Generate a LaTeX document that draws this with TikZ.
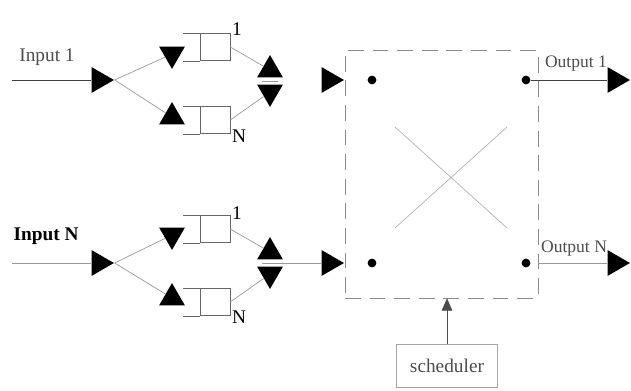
\documentclass[tikz,border=0pt]{standalone}
\usepackage{fontspec}
\setmainfont{Liberation Serif}
\usepackage{tikz}
\usetikzlibrary{shapes.geometric,arrows.meta}
\tikzset{tri/.style={regular polygon, regular polygon sides=3, fill=black,
  inner sep=0pt, minimum size=17pt},
  trir/.style={tri, shape border rotate=-90},
  triu/.style={tri},
  trid/.style={tri, shape border rotate=180},
  queue/.style={draw=black!60, minimum width=17pt, minimum height=15.4pt,
  inner sep=0pt},
  dot/.style={circle, fill=black, inner sep=0pt, minimum size=5pt},
  branch/.style={draw=black!40},
  wire/.style={draw=black!75},
  lbl/.style={text=black!70, inner sep=1pt}}

\begin{document}
\begin{tikzpicture}[x=0.02cm, y=-0.02cm, font=\fontsize{11}{13}\selectfont]
  \useasboundingbox (0,0) rectangle (631,391);

  % input 1
  \coordinate (i1) at (12,80);
  \node[lbl] (l1) at (47,57) {Input 1};
  \node[trir] (a1) at (99,80) {};
  \node[trid] (t11) at (172,54) {};
  \node[triu] (t1n) at (172,117) {};
  \node[queue] (q11) at (215,47) {};
  \node[queue] (q1n) at (215,120) {};
  \node[inner sep=1pt] (n11) at (237,29) {1};
  \node[inner sep=1pt] (n1n) at (239,136) {N};
  \node[triu] (m1u) at (270,70) {};
  \node[trid] (m1d) at (270,92) {};
  \coordinate (c1) at (270,81);
  \node[trir] (s1) at (329,80) {};

  \path[wire] (i1) -- (a1);
  \path[branch] (a1.corner 1) -- (t11);
  \path[branch] (a1.corner 1) -- (t1n);
  \path[branch] (q11.east) -- (m1u);
  \path[branch] (q1n.east) -- (m1d);
  \path[draw=black!60] (q11.north west) -- ++(-17,0) (q11.south west) -- ++(-17,0);
  \path[draw=black!60] (q1n.north west) -- ++(-17,0) (q1n.south west) -- ++(-17,0);
  \path[branch] (c1) +(-8,0) -- +(8,0);

  % input N
  \coordinate (iN) at (12,263);
  \node[lbl, text=black, font=\fontsize{11}{13}\selectfont\bfseries] (lN) at (46,236) {Input N};
  \node[trir] (aN) at (99,263) {};
  \node[trid] (tN1) at (172,235) {};
  \node[triu] (tNn) at (172,298) {};
  \node[queue] (qN1) at (215,229) {};
  \node[queue] (qNn) at (215,302) {};
  \node[inner sep=1pt] (nN1) at (237,213) {1};
  \node[inner sep=1pt] (nNn) at (239,317) {N};
  \node[triu] (mNu) at (270,252) {};
  \node[trid] (mNd) at (270,274) {};
  \coordinate (cN) at (270,263);
  \node[trir] (sN) at (329,263) {};

  \path[branch] (iN) -- (aN);
  \path[branch] (aN.corner 1) -- (tN1);
  \path[branch] (aN.corner 1) -- (tNn);
  \path[branch] (qN1.east) -- (mNu);
  \path[branch] (qNn.east) -- (mNd);
  \path[draw=black!60] (qN1.north west) -- ++(-17,0) (qN1.south west) -- ++(-17,0);
  \path[draw=black!60] (qNn.north west) -- ++(-17,0) (qNn.south west) -- ++(-17,0);
  \path[branch] (cN) +(-8,0) -- (sN);

  % switch
  \node[draw=black!45, dash pattern=on 9pt off 5pt, minimum width=109.8pt,
    minimum height=141.1pt, inner sep=0pt] (sw) at (441.5,174) {};
  \node[dot] (d11) at (372,80) {};
  \node[dot] (d12) at (526,80) {};
  \node[dot] (dN1) at (372,263) {};
  \node[dot] (dN2) at (526,263) {};
  \draw[black!30] (395,127) -- (507,228) (507,127) -- (395,228);

  % outputs
  \node[trir] (o1) at (615,80) {};
  \node[trir] (oN) at (615,263) {};
  \node[lbl, font=\fontsize{10}{12}\selectfont] (lo1) at (576,64) {Output 1};
  \node[lbl, font=\fontsize{10}{12}\selectfont] (loN) at (574,249) {Output N};
  \path[wire] (d12) -- (o1);
  \path[branch] (sw.east |- oN) -- (oN);

  % scheduler
  \node[draw=black!35, minimum width=57.5pt, minimum height=24.5pt,
    text=black!70] (sch) at (447,366) {scheduler};
  \draw[black!70, -{Triangle[width=6pt,length=7pt]}] (sch) -- (sch |- sw.south);
\end{tikzpicture}
\end{document}
